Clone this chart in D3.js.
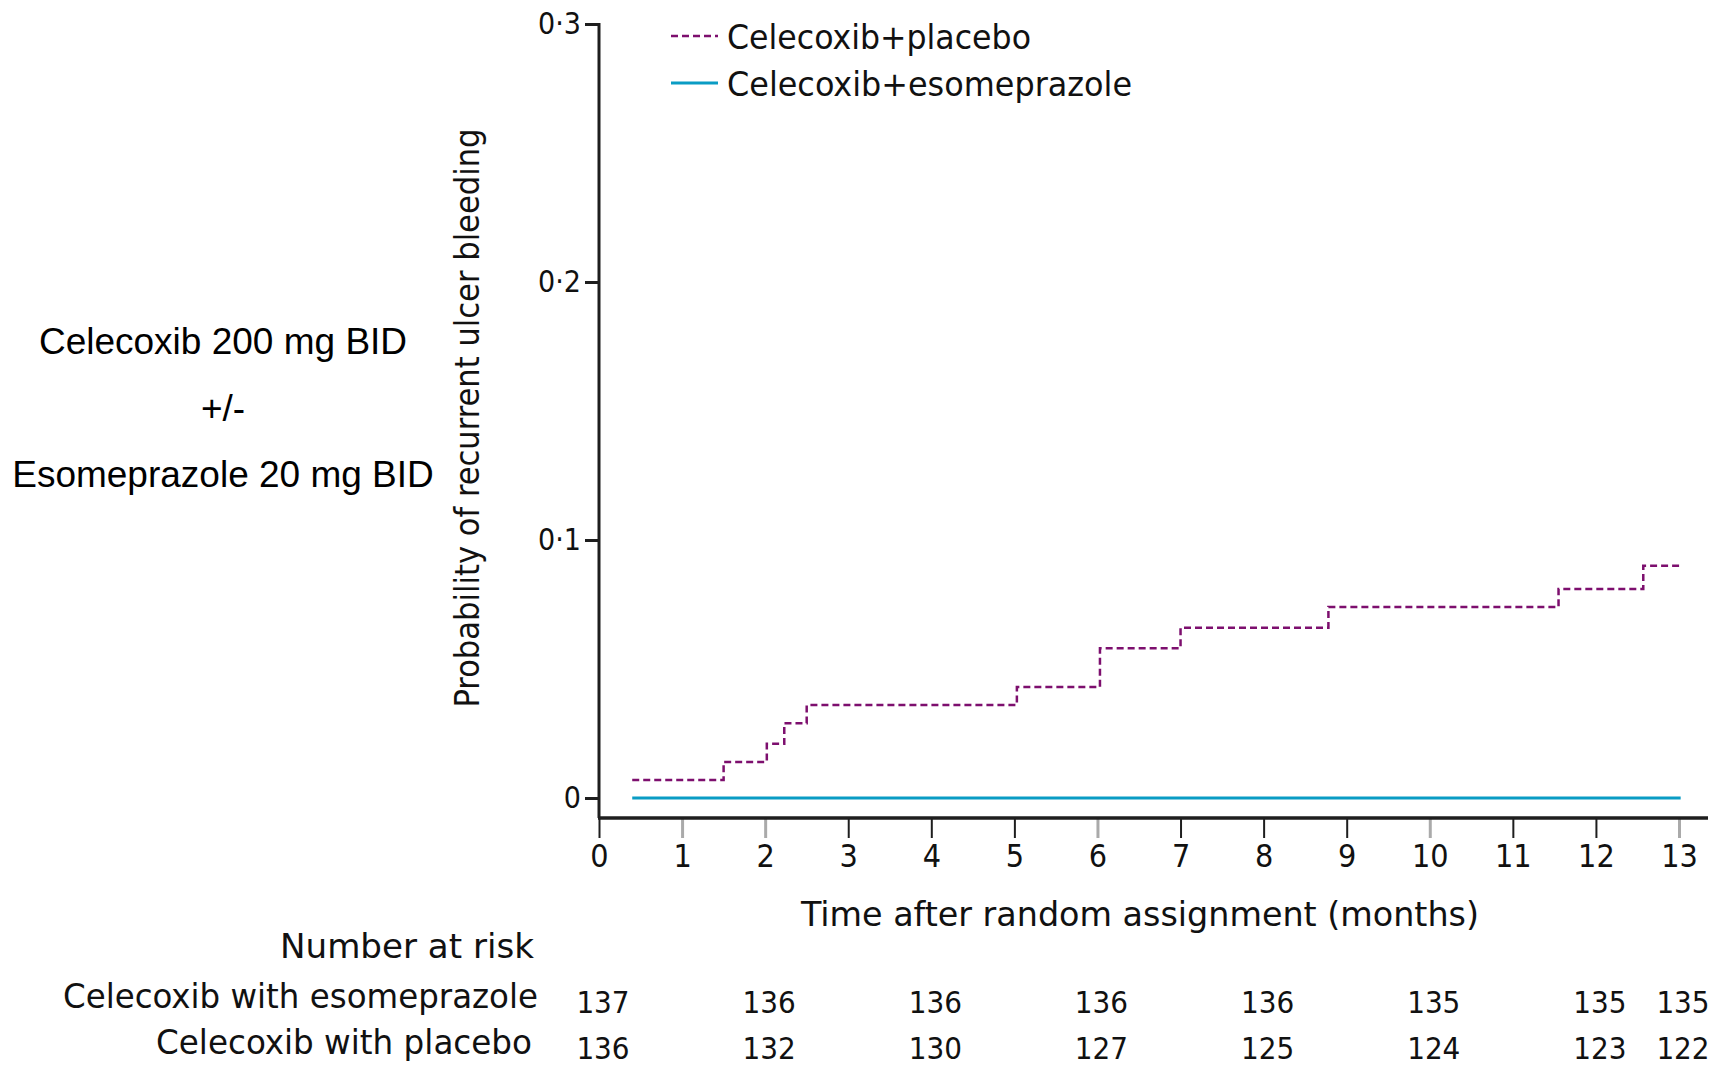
<!DOCTYPE html>
<html>
<head>
<meta charset="utf-8">
<script src="https://cdn.jsdelivr.net/npm/d3@7"></script>
<style>
  body { margin: 0; background: #fff; }
  svg { display: block; }
  .px { font-family: "DejaVu Sans Condensed", "DejaVu Sans", sans-serif; font-stretch: condensed; fill: #111; }
  .ar { font-family: "Liberation Sans", Arial, sans-serif; fill: #000; }
</style>
</head>
<body>
<div id="chart"></div>
<script>
// step times (months) and cumulative probability, Celecoxib + placebo
var placeboTime = [0.4, 1.5, 2.02, 2.23, 2.5, 5.03, 6.03, 7.0, 8.78, 11.55, 12.57, 13.02];
var placeboProb = [0.007, 0.014, 0.021, 0.029, 0.036, 0.043, 0.058, 0.066, 0.074, 0.081, 0.090, 0.090];
// Celecoxib + esomeprazole: no events
var esoTime = [0.4, 13.02];
var esoProb = [0, 0];

var xTicks = d3.range(0, 14);
var yTicks = [0, 0.1, 0.2, 0.3];
var yTickLabels = ["0", "0·1", "0·2", "0·3"];

var riskMonths = [0, 2, 4, 6, 8, 10, 12, 13];
var riskEso = [137, 136, 136, 136, 136, 135, 135, 135];
var riskPlacebo = [136, 132, 130, 127, 125, 124, 123, 122];

var seriesNames = ["Celecoxib+placebo", "Celecoxib+esomeprazole"];
var riskLabels = ["Celecoxib with esomeprazole", "Celecoxib with placebo"];

var W = 1720, H = 1066;
var purple = "#7d0f6e", blue = "#0a9cc4", axisCol = "#1e1e1e";
var grayTicks = [1, 2, 6, 10, 13];

var svg = d3.select("#chart").append("svg").attr("width", W).attr("height", H);
svg.append("rect").attr("width", W).attr("height", H).attr("fill", "#fff");

var x = d3.scaleLinear().domain([0, 13]).range([599, 1679]);
var y = d3.scaleLinear().domain([0, 0.3]).range([798, 24]);
var axisY = 818;

// x axis
var gx = svg.append("g").attr("transform", "translate(0," + axisY + ")")
  .call(d3.axisBottom(x).tickValues(xTicks).tickSize(20).tickSizeOuter(0).tickPadding(6));
gx.select(".domain").remove();
gx.selectAll(".tick line")
  .attr("stroke", function (d) { return grayTicks.indexOf(d) >= 0 ? "#aaa" : axisCol; })
  .attr("stroke-width", function (d) { return grayTicks.indexOf(d) >= 0 ? 3 : 2; });
gx.selectAll(".tick text").attr("class", "px").attr("font-size", 32).attr("fill", "#111");
svg.append("line").attr("x1", x(0) - 1).attr("x2", 1708).attr("y1", axisY).attr("y2", axisY)
  .attr("stroke", axisCol).attr("stroke-width", 3.5);

// y axis
var gy = svg.append("g").attr("transform", "translate(" + x(0) + ",0)")
  .call(d3.axisLeft(y).tickValues(yTicks).tickSize(14).tickSizeOuter(0).tickPadding(4)
    .tickFormat(function (d, i) { return yTickLabels[i]; }));
gy.select(".domain").remove();
gy.selectAll(".tick line").attr("stroke", axisCol).attr("stroke-width", 3);
gy.selectAll(".tick text").attr("class", "px").attr("font-size", 30).attr("fill", "#111");
svg.append("line").attr("x1", x(0)).attr("x2", x(0)).attr("y1", y(0.3) - 1).attr("y2", axisY)
  .attr("stroke", axisCol).attr("stroke-width", 3);

// curves
var step = d3.line().x(function (d) { return x(d[0]); }).y(function (d) { return y(d[1]); }).curve(d3.curveStepAfter);
svg.append("path").datum(d3.zip(esoTime, esoProb)).attr("d", step)
  .attr("fill", "none").attr("stroke", blue).attr("stroke-width", 3);
svg.append("path").datum(d3.zip(placeboTime, placeboProb)).attr("d", step)
  .attr("fill", "none").attr("stroke", purple).attr("stroke-width", 2.5).attr("stroke-dasharray", "7,4");

// legend
var leg = [{ y: 36, c: purple, dash: "7,4", w: 304 }, { y: 83, c: blue, dash: null, w: 405 }];
leg.forEach(function (l, i) {
  svg.append("line").attr("x1", 671).attr("x2", 718).attr("y1", l.y).attr("y2", l.y)
    .attr("stroke", l.c).attr("stroke-width", i ? 3 : 2.5).attr("stroke-dasharray", l.dash);
  svg.append("text").attr("class", "px").attr("x", 727).attr("y", l.y + 13)
    .attr("font-size", 34).attr("textLength", l.w).attr("lengthAdjust", "spacingAndGlyphs")
    .text(seriesNames[i]);
});

// axis titles
svg.append("text").attr("class", "px").attr("transform", "translate(479,418) rotate(-90)")
  .attr("text-anchor", "middle").attr("font-size", 34)
  .attr("textLength", 579).attr("lengthAdjust", "spacingAndGlyphs")
  .text("Probability of recurrent ulcer bleeding");
svg.append("text").attr("class", "px").attr("x", 801).attr("y", 926)
  .attr("font-size", 34).attr("textLength", 678).attr("lengthAdjust", "spacingAndGlyphs")
  .text("Time after random assignment (months)");

// treatment caption
["Celecoxib 200 mg BID", "+/-", "Esomeprazole 20 mg BID"].forEach(function (t, i) {
  svg.append("text").attr("class", "ar").attr("x", 223).attr("y", 354 + i * 66.5)
    .attr("text-anchor", "middle").attr("font-size", 37).text(t);
});

// number at risk
svg.append("text").attr("class", "px").attr("x", 534).attr("y", 958).attr("text-anchor", "end")
  .attr("font-size", 34).attr("textLength", 254).attr("lengthAdjust", "spacingAndGlyphs")
  .text("Number at risk");
var rows = [riskEso, riskPlacebo];
var rowY = [1008, 1054];
var rowW = [475, 376];
rows.forEach(function (r, i) {
  svg.append("text").attr("class", "px").attr("x", 538 - i * 6).attr("y", rowY[i]).attr("text-anchor", "end")
    .attr("font-size", 34).attr("textLength", rowW[i]).attr("lengthAdjust", "spacingAndGlyphs")
    .text(riskLabels[i]);
  svg.selectAll(null).data(r).enter().append("text").attr("class", "px")
    .attr("x", function (d, j) { return x(riskMonths[j]) + 4; })
    .attr("y", rowY[i] + 5).attr("text-anchor", "middle").attr("font-size", 31)
    .text(function (d) { return d; });
});
</script>
</body>
</html>
